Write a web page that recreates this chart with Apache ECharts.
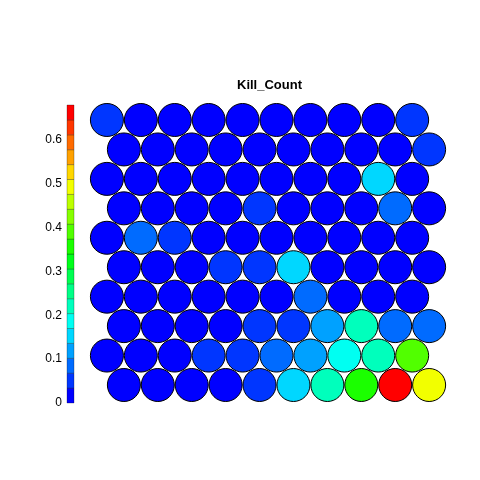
<!DOCTYPE html>
<html><head><meta charset="utf-8">
<script src="https://cdn.jsdelivr.net/npm/echarts@6/dist/echarts.min.js"></script>
<style>html,body{margin:0;padding:0;background:#fff}#c{width:480px;height:480px}</style>
</head><body><div id="c"></div>
<script>
// Kill_Count per SOM node, rows listed from top row to bottom row (10 x 10 hex grid)
const rowA = [0.05, 0.02, 0.01, 0.01, 0.01, 0.02, 0.01, 0.01, 0.02, 0.05];
const rowB = [0.02, 0.01, 0.01, 0.01, 0.01, 0.01, 0.02, 0.01, 0.02, 0.06];
const rowC = [0.02, 0.01, 0.01, 0.01, 0.02, 0.01, 0.01, 0.02, 0.16, 0.02];
const rowD = [0.01, 0.01, 0.02, 0.02, 0.05, 0.02, 0.01, 0.02, 0.09, 0.03];
const rowE = [0.02, 0.09, 0.06, 0.01, 0.01, 0.02, 0.01, 0.01, 0.02, 0.02];
const rowF = [0.01, 0.02, 0.02, 0.05, 0.06, 0.16, 0.02, 0.01, 0.02, 0.02];
const rowG = [0.02, 0.01, 0.02, 0.01, 0.02, 0.03, 0.09, 0.02, 0.01, 0.02];
const rowH = [0.02, 0.01, 0.02, 0.02, 0.05, 0.05, 0.12, 0.22, 0.08, 0.08];
const rowI = [0.02, 0.02, 0.02, 0.05, 0.05, 0.08, 0.12, 0.19, 0.22, 0.39];
const rowJ = [0.02, 0.02, 0.02, 0.02, 0.06, 0.16, 0.22, 0.35, 0.67, 0.49];
const rowsTopToBottom = [rowA, rowB, rowC, rowD, rowE, rowF, rowG, rowH, rowI, rowJ];
const scaleMin = 0;
const scaleMax = 0.68;
const nColors = 20;
const colorbarTicks = [0, 0.1, 0.2, 0.3, 0.4, 0.5, 0.6];
const titleText = 'Kill_Count';

function hsvToHex(h, s, v) {
  const f = n => { const k = (n + h / 60) % 6; return v - v * s * Math.max(Math.min(k, 4 - k, 1), 0); };
  const t = x => Math.round(x * 255).toString(16).padStart(2, '0');
  return '#' + t(f(5)) + t(f(3)) + t(f(1));
}
// blue -> red rainbow palette
const palette = [];
for (let i = 0; i < nColors; i++) palette.push(hsvToHex(240 - i * 240 / (nColors - 1), 1, 1));
const step = (scaleMax - scaleMin) / nColors;
const pieces = palette.map((c, i) => ({ gte: scaleMin + i * step, lt: scaleMin + (i + 1) * step, color: c }));
pieces[nColors - 1].lte = scaleMax; delete pieces[nColors - 1].lt;

// hex grid nodes
const nRows = rowsTopToBottom.length;
const nodes = [];
rowsTopToBottom.forEach((row, ti) => {
  const r = nRows - 1 - ti; // 0 = bottom row
  row.forEach((v, j) => {
    nodes.push([j + (r % 2 === 0 ? 0.5 : 0), r * Math.sqrt(3) / 2, v]);
  });
});
const bins = palette.map((c, i) => [0, scaleMin + i * step, scaleMin + (i + 1) * step, i]);

const chart = echarts.init(document.getElementById('c'), null, { renderer: 'canvas' });
chart.setOption({
  animation: false,
  backgroundColor: '#fff',
  title: { text: titleText, left: 232, top: 74, textStyle: { fontFamily: 'Liberation Sans', fontWeight: 'bold', fontSize: 13, color: '#000' } },
  grid: [
    { left: 73, width: 408, top: 45, height: 374 },
    { left: 67, width: 7, top: 105, height: 298 }
  ],
  xAxis: [
    { gridIndex: 0, type: 'value', min: -1, max: 11, show: false },
    { gridIndex: 1, type: 'value', min: 0, max: 1, show: false }
  ],
  yAxis: [
    { gridIndex: 0, type: 'value', min: -1, max: 10, show: false },
    { gridIndex: 1, type: 'value', min: scaleMin, max: scaleMax, interval: 0.1,
      axisLine: { show: false }, axisTick: { show: false }, splitLine: { show: false },
      axisLabel: { show: true, margin: 5, fontFamily: 'Liberation Sans', fontSize: 12, color: '#000',
        padding: [5, 0, 0, 0],
        customValues: colorbarTicks, formatter: v => String(Math.round(v * 10) / 10) } }
  ],
  visualMap: { type: 'piecewise', show: false, dimension: 2, seriesIndex: 0, pieces: pieces },
  series: [
    { type: 'scatter', xAxisIndex: 0, yAxisIndex: 0, data: nodes, symbol: 'circle', symbolSize: 33,
      itemStyle: { borderColor: '#000', borderWidth: 1, opacity: 1 } },
    { type: 'custom', xAxisIndex: 1, yAxisIndex: 1, data: bins,
      renderItem: (params, api) => {
        const p0 = api.coord([0, api.value(1)]);
        const p1 = api.coord([1, api.value(2)]);
        return { type: 'rect', shape: { x: p0[0], y: p1[1], width: p1[0] - p0[0], height: p0[1] - p1[1] },
          style: { fill: palette[api.value(3)], stroke: 'rgba(0,0,0,0.45)', lineWidth: 0.6 } };
      } }
  ]
});
</script></body></html>
